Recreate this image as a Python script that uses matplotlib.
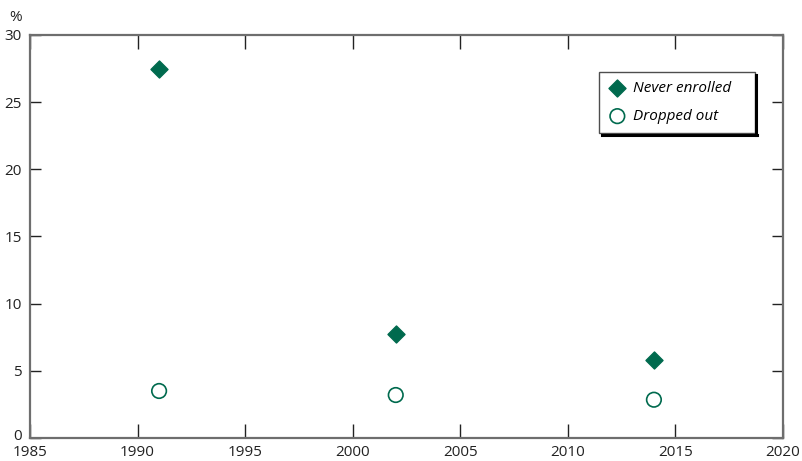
import matplotlib
matplotlib.use("Agg")
import matplotlib.pyplot as plt
from matplotlib.transforms import ScaledTranslation

plt.rcParams['font.family'] = ['Open Sans', 'DejaVu Sans']

years = [1991, 2002, 2014]
never_enrolled = [27.45, 7.75, 5.8]
dropped_out = [3.5, 3.2, 2.85]
green = '#006a4e'

fig = plt.figure(figsize=(8.02, 4.61), dpi=100)
ax = fig.add_axes([30/802, 1-438/461, (783-30)/802, (438-35)/461])

ax.scatter(years, never_enrolled, marker='D', s=75, color=green, label='Never enrolled', zorder=3)
ax.scatter(years, dropped_out, marker='o', s=110, facecolor='none', edgecolor=green, linewidths=1.2,
           label='Dropped out', zorder=3)

ax.set_xlim(1985, 2020)
ax.set_ylim(0, 30)
ax.set_xticks(range(1985, 2021, 5))
ax.set_yticks(range(0, 31, 5))
ax.tick_params(axis='both', direction='in', length=8, width=1, color='#222222',
               labelsize=11, labelcolor='#222222', top=True, right=True)
ax.tick_params(axis='x', length=10, pad=5)
ax.tick_params(axis='y', pad=6)
for s in ax.spines.values():
    s.set_color('#6e6e6e')
    s.set_linewidth(1.6)

ax.text(-0.028, 1.025, '%', transform=ax.transAxes, fontsize=11, color='#222222', ha='left', va='bottom')

lx0 = (599-30)/753
lw = (755-599)/753
ly1 = 1-(72-35)/403
leg = ax.legend(loc='upper left', bbox_to_anchor=(lx0, ly1 - 0.2, lw, 0.2), mode='expand', frameon=True,
                borderaxespad=0, fancybox=False, shadow=False, handletextpad=0.4, borderpad=0.6,
                labelspacing=0.85, handlelength=1.2, prop={'size': 11, 'style': 'italic'})
fr = leg.get_frame()
fr.set_edgecolor('#222222')
fr.set_linewidth(1.0)
fig.canvas.draw()
lab0 = ax.yaxis.get_major_ticks()[0].label1
lab0.set_transform(lab0.get_transform() + ScaledTranslation(0, 4/100, fig.dpi_scale_trans))
bb = leg.get_window_extent().transformed(fig.transFigure.inverted())
fig.add_artist(plt.Line2D([bb.x1 + 0.0015, bb.x1 + 0.0015], [bb.y0 - 0.003, bb.y1 - 0.006],
                          transform=fig.transFigure, color='black', lw=2.2))
fig.add_artist(plt.Line2D([bb.x0 + 0.004, bb.x1 + 0.0025], [bb.y0 - 0.003, bb.y0 - 0.003],
                          transform=fig.transFigure, color='black', lw=2.2))

fig.savefig('out.png', dpi=100)
